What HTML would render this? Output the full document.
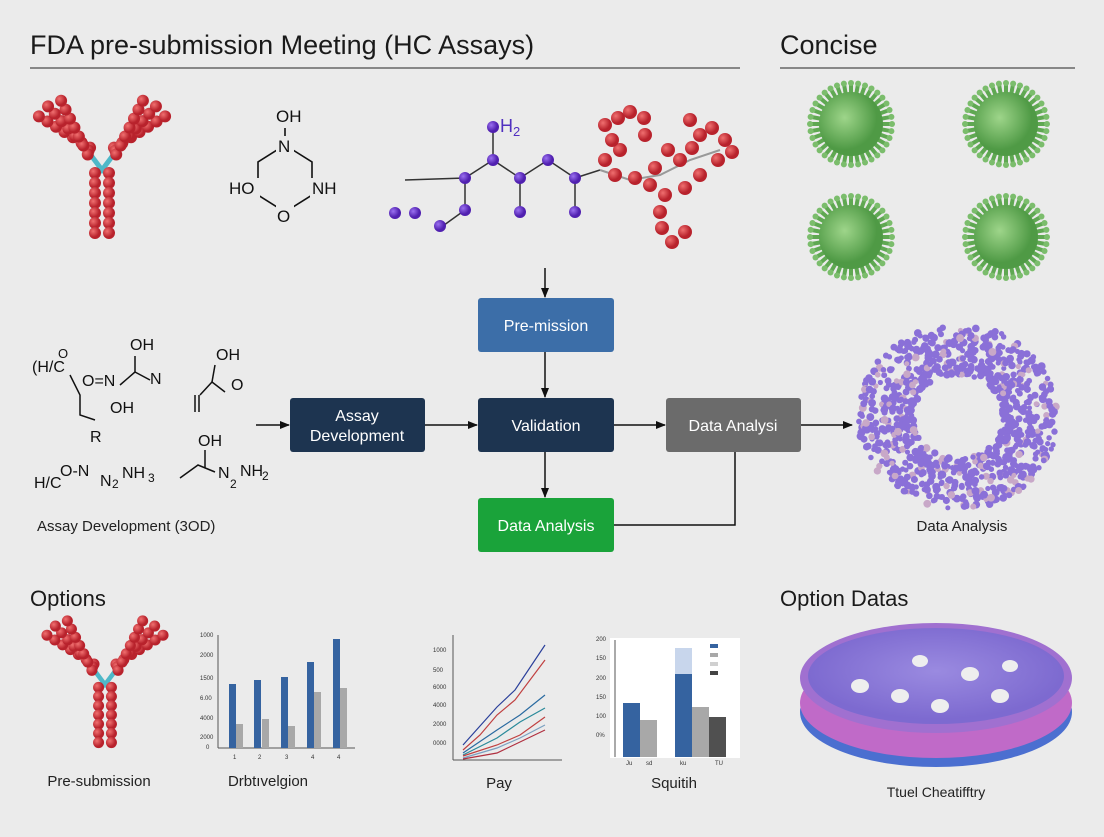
<!DOCTYPE html>
<html><head><meta charset="utf-8"><style>
html,body{margin:0;padding:0;background:#ebebeb;}
body{width:1104px;height:832px;overflow:hidden;font-family:"Liberation Sans",sans-serif;}
</style></head><body>
<svg id="s" width="1104" height="832" viewBox="0 0 1104 832" xmlns="http://www.w3.org/2000/svg" font-family="Liberation Sans, sans-serif">
<defs>
<radialGradient id="red" cx="35%" cy="35%"><stop offset="0" stop-color="#f07070"/><stop offset="1" stop-color="#b8222c"/></radialGradient>
<radialGradient id="pur" cx="35%" cy="35%"><stop offset="0" stop-color="#9a70f0"/><stop offset="1" stop-color="#5020b0"/></radialGradient>
<radialGradient id="grn" cx="40%" cy="40%"><stop offset="0" stop-color="#9ed58a"/><stop offset="1" stop-color="#4f9a45"/></radialGradient>
<radialGradient id="disc" cx="50%" cy="45%"><stop offset="0" stop-color="#9a8ae0"/><stop offset="1" stop-color="#7d6ad0"/></radialGradient>
<marker id="ar" markerWidth="10" markerHeight="10" refX="9" refY="5" orient="auto" markerUnits="userSpaceOnUse"><path d="M0,1 L10,5 L0,9 Z" fill="#111"/></marker>
</defs>
<rect width="1104" height="832" fill="#ebebeb"/>
<text x="30" y="54" font-size="27" fill="#1a1a1a">FDA pre-submission Meeting (HC Assays)</text>
<line x1="30" y1="68" x2="740" y2="68" stroke="#666" stroke-width="1.5"/>
<text x="780" y="54" font-size="27" fill="#1a1a1a">Concise</text>
<line x1="780" y1="68" x2="1075" y2="68" stroke="#666" stroke-width="1.5"/>
<text x="30" y="606" font-size="22" fill="#1a1a1a">Options</text>
<text x="780" y="606" font-size="22" fill="#1a1a1a">Option Datas</text>

<g id="mols"></g>

<g stroke="#111" stroke-width="1.6" fill="none">
<path d="M285,145 L312,162 L312,195 L285,212 L258,195 L258,162 Z"/>
<line x1="285" y1="145" x2="285" y2="128"/>
</g>
<g font-size="17" fill="#111">
<rect x="276" y="136" width="18" height="20" fill="#ebebeb"/><text x="278" y="152">N</text>
<text x="276" y="122">OH</text>
<rect x="276" y="205" width="18" height="20" fill="#ebebeb"/><text x="277" y="222">O</text>
<rect x="228" y="178" width="32" height="20" fill="#ebebeb"/><text x="229" y="194">HO</text>
<rect x="310" y="178" width="32" height="20" fill="#ebebeb"/><text x="312" y="194">NH</text>
</g>

<g font-size="16" fill="#111">
<text x="32" y="372">(H/C</text><text x="58" y="358" font-size="13">O</text>
<text x="130" y="350">OH</text><text x="150" y="384">N</text>
<text x="82" y="386">O=N</text><text x="110" y="413">OH</text>
<text x="90" y="442">R</text>
<text x="216" y="360">OH</text><text x="231" y="390">O</text>
<text x="34" y="488">H/C</text><text x="60" y="476">O-N</text><text x="100" y="486">N</text><text x="112" y="488" font-size="12">2</text><text x="122" y="478">NH</text><text x="148" y="482" font-size="12">3</text>
<text x="198" y="446">OH</text><text x="218" y="478">N</text><text x="230" y="488" font-size="12">2</text><text x="240" y="476">NH</text><text x="262" y="480" font-size="12">2</text>
</g>
<g stroke="#111" stroke-width="1.5" fill="none">
<path d="M70,375 L80,395 L80,415 L95,420"/><path d="M120,385 L135,372 L135,356"/><path d="M135,372 L150,380"/>
<path d="M200,395 L212,382 L225,392"/><path d="M195,395 L195,412 M199,395 L199,412"/><path d="M212,382 L215,365"/>
<path d="M180,478 L198,465 L215,472"/><path d="M205,450 L205,468"/>
</g>
<text x="37" y="531" font-size="15" fill="#222">Assay Development (3OD)</text>

<g stroke="#111" stroke-width="1.5" fill="none" marker-end="url(#ar)">
<line x1="545" y1="268" x2="545" y2="297"/>
<line x1="545" y1="352" x2="545" y2="397"/>
<line x1="256" y1="425" x2="289" y2="425"/>
<line x1="425" y1="425" x2="477" y2="425"/>
<line x1="614" y1="425" x2="665" y2="425"/>
<line x1="801" y1="425" x2="852" y2="425"/>
<line x1="545" y1="452" x2="545" y2="497"/>
</g>
<path d="M614,525 L735,525 L735,452" stroke="#111" stroke-width="1.5" fill="none"/>
<rect x="478" y="298" width="136" height="54" rx="3" fill="#3c6ea8"/>
<text x="546" y="331" font-size="16" fill="#fff" text-anchor="middle">Pre-mission</text>
<rect x="290" y="398" width="135" height="54" rx="3" fill="#1d3450"/>
<text x="357" y="421" font-size="16" fill="#fff" text-anchor="middle">Assay</text>
<text x="357" y="441" font-size="16" fill="#fff" text-anchor="middle">Development</text>
<rect x="478" y="398" width="136" height="54" rx="3" fill="#1d3450"/>
<text x="546" y="431" font-size="16" fill="#fff" text-anchor="middle">Validation</text>
<rect x="666" y="398" width="135" height="54" rx="3" fill="#6b6b6b"/>
<text x="733" y="431" font-size="16" fill="#fff" text-anchor="middle">Data Analysi</text>
<rect x="478" y="498" width="136" height="54" rx="3" fill="#1aa33a"/>
<text x="546" y="531" font-size="16" fill="#fff" text-anchor="middle">Data Analysis</text>

<text x="962" y="531" font-size="15" fill="#222" text-anchor="middle">Data Analysis</text>

<ellipse cx="936" cy="712" rx="136" ry="55" fill="#4b6fd0"/>
<ellipse cx="936" cy="703" rx="136" ry="55" fill="#c06ac8"/>
<ellipse cx="936" cy="678" rx="136" ry="55" fill="#a070d0"/>
<ellipse cx="936" cy="676" rx="128" ry="48" fill="url(#disc)"/>
<g fill="#eee"><ellipse cx="860" cy="686" rx="9" ry="7"/><ellipse cx="900" cy="696" rx="9" ry="7"/><ellipse cx="940" cy="706" rx="9" ry="7"/><ellipse cx="970" cy="674" rx="9" ry="7"/><ellipse cx="1000" cy="696" rx="9" ry="7"/><ellipse cx="920" cy="661" rx="8" ry="6"/><ellipse cx="1010" cy="666" rx="8" ry="6"/></g>
<text x="936" y="797" font-size="14" fill="#222" text-anchor="middle">Ttuel Cheatifftry</text>

<g font-size="6" fill="#333">
<line x1="218" y1="635" x2="218" y2="748" stroke="#555"/><line x1="218" y1="748" x2="355" y2="748" stroke="#555"/>
<text x="200" y="637">1000</text><text x="200" y="657">2000</text><text x="200" y="680">1500</text><text x="200" y="700">6.00</text><text x="200" y="720">4000</text><text x="200" y="739">2000</text><text x="206" y="749">0</text>
<g fill="#3563a0"><rect x="229" y="684" width="7" height="64"/><rect x="254" y="680" width="7" height="68"/><rect x="281" y="677" width="7" height="71"/><rect x="307" y="662" width="7" height="86"/><rect x="333" y="639" width="7" height="109"/></g>
<g fill="#a8a8a8"><rect x="236" y="724" width="7" height="24"/><rect x="262" y="719" width="7" height="29"/><rect x="288" y="726" width="7" height="22"/><rect x="314" y="692" width="7" height="56"/><rect x="340" y="688" width="7" height="60"/></g>
<text x="233" y="759">1</text><text x="258" y="759">2</text><text x="285" y="759">3</text><text x="311" y="759">4</text><text x="337" y="759">4</text>
</g>
<text x="268" y="786" font-size="15" fill="#222" text-anchor="middle">Drbtıvelgion</text>

<g font-size="6" fill="#333">
<line x1="453" y1="635" x2="453" y2="760" stroke="#555"/><line x1="453" y1="760" x2="562" y2="760" stroke="#555"/>
<text x="433" y="652">1000</text><text x="433" y="672">500</text><text x="433" y="689">6000</text><text x="433" y="707">4000</text><text x="433" y="726">2000</text><text x="433" y="745">0000</text>
<g fill="none" stroke-width="1.2">
<path d="M463,745 L480,726 L497,707 L515,690 L545,645" stroke="#2a3f9a"/>
<path d="M463,750 L480,735 L497,715 L515,700 L545,660" stroke="#c04040"/>
<path d="M463,753 L497,730 L520,715 L545,695" stroke="#2a6aa0"/>
<path d="M463,755 L497,738 L520,722 L545,708" stroke="#2a8a9a"/>
<path d="M463,756 L497,745 L520,735 L545,717" stroke="#c04040"/>
<path d="M463,758 L497,748 L520,738 L545,725" stroke="#7aa0c0"/>
<path d="M463,759 L497,753 L520,742 L545,730" stroke="#b03040"/>
</g></g>
<text x="499" y="788" font-size="15" fill="#222" text-anchor="middle">Pay</text>

<g font-size="6" fill="#333">
<rect x="610" y="638" width="130" height="120" fill="#fff"/>
<line x1="615" y1="640" x2="615" y2="757" stroke="#555"/>
<text x="596" y="641">200</text><text x="596" y="660">150</text><text x="596" y="680">200</text><text x="596" y="699">150</text><text x="596" y="718">100</text><text x="596" y="737">0%</text>
<rect x="623" y="703" width="17" height="54" fill="#3563a0"/>
<rect x="640" y="720" width="17" height="37" fill="#a8a8a8"/>
<rect x="675" y="648" width="17" height="26" fill="#c8d6ec"/>
<rect x="675" y="674" width="17" height="83" fill="#3563a0"/>
<rect x="692" y="707" width="17" height="50" fill="#a8a8a8"/>
<rect x="709" y="717" width="17" height="40" fill="#505050"/>
<rect x="710" y="644" width="8" height="4" fill="#3563a0"/><rect x="710" y="653" width="8" height="4" fill="#a8a8a8"/><rect x="710" y="662" width="8" height="4" fill="#d0d0d0"/><rect x="710" y="671" width="8" height="4" fill="#444"/>
<text x="626" y="765">Ju</text><text x="646" y="765">sd</text><text x="680" y="765">ku</text><text x="715" y="765">TU</text>
</g>
<text x="674" y="788" font-size="15" fill="#222" text-anchor="middle">Squitih</text>
<text x="99" y="786" font-size="15" fill="#222" text-anchor="middle">Pre-submission</text>
</svg>
<script>
var NS="http://www.w3.org/2000/svg",g=document.getElementById("mols");
function el(t,a){var e=document.createElementNS(NS,t);for(var k in a)e.setAttribute(k,a[k]);g.appendChild(e);return e;}
function antibody(cx,cy,s){
 el("path",{d:"M"+(cx-30*s)+","+(cy-35*s)+" L"+cx+","+(cy+5*s)+" L"+(cx+30*s)+","+(cy-35*s),stroke:"#4fb8c8","stroke-width":5*s,fill:"none"});
 var pts=[];
 [-1,1].forEach(function(d){
  for(var arm=0;arm<3;arm++){
   var ang=(0.55+arm*0.28);
   for(var i=0;i<7;i++){var r=(14+i*10)*s;pts.push([cx+d*(Math.cos(ang)*r+arm*4*s),cy-Math.sin(ang)*r-(10-arm*6)*s]);}
  }
  for(var i=0;i<7;i++)pts.push([cx+d*7*s,cy+(8+i*10)*s]);
 });
 pts.forEach(function(p){el("circle",{cx:p[0],cy:p[1],r:6*s,fill:"url(#red)"});});
}
antibody(102,165,1.0);antibody(105,680,0.92);
el("path",{d:"M405,180 L465,178 L493,160 L520,178 L548,160 L575,178 L600,170 M493,160 L493,125 M465,178 L465,210 L440,228 M520,178 L520,212 M575,178 L575,212",stroke:"#333","stroke-width":1.5,fill:"none"});
[[465,178],[493,160],[493,127],[520,178],[548,160],[575,178],[465,210],[520,212],[575,212],[395,213],[415,213],[440,226]].forEach(function(p){el("circle",{cx:p[0],cy:p[1],r:6,fill:"url(#pur)"});});
var t=el("text",{x:500,y:132,"font-size":18,fill:"#5030c0"});t.textContent="H";var t2=el("text",{x:513,y:136,"font-size":13,fill:"#5030c0"});t2.textContent="2";
el("path",{d:"M600,170 L630,180 L660,175 L690,160 L720,150",stroke:"#999","stroke-width":2,fill:"none"});
[[605,125],[618,118],[630,112],[644,118],[645,135],[620,150],[605,160],[615,175],[635,178],[655,168],[668,150],[680,160],[692,148],[700,135],[712,128],[725,140],[732,152],[718,160],[700,175],[685,188],[665,195],[660,212],[662,228],[672,242],[685,232],[650,185],[690,120],[612,140]].forEach(function(p){el("circle",{cx:p[0],cy:p[1],r:7,fill:"url(#red)"});});
function virus(cx,cy,r){for(var i=0;i<36;i++){var a=i*Math.PI/18;el("line",{x1:cx,y1:cy,x2:cx+Math.cos(a)*(r+9),y2:cy+Math.sin(a)*(r+9),stroke:"#5fa852","stroke-width":4});el("circle",{cx:cx+Math.cos(a)*(r+9),cy:cy+Math.sin(a)*(r+9),r:3,fill:"#7bbd6c"});}el("circle",{cx:cx,cy:cy,r:r,fill:"url(#grn)"});}
virus(851,124,32);virus(1006,124,32);virus(851,237,32);virus(1006,237,32);
for(var i=0;i<900;i++){var a=Math.random()*Math.PI*2,rr=45+Math.random()*55;el("circle",{cx:958+Math.cos(a)*rr*1.0,cy:417+Math.sin(a)*rr*0.93,r:2.5+Math.random()*1.5,fill:Math.random()<0.15?"#c8a8c8":"#8a70d8"});}
</script>
</body></html>
